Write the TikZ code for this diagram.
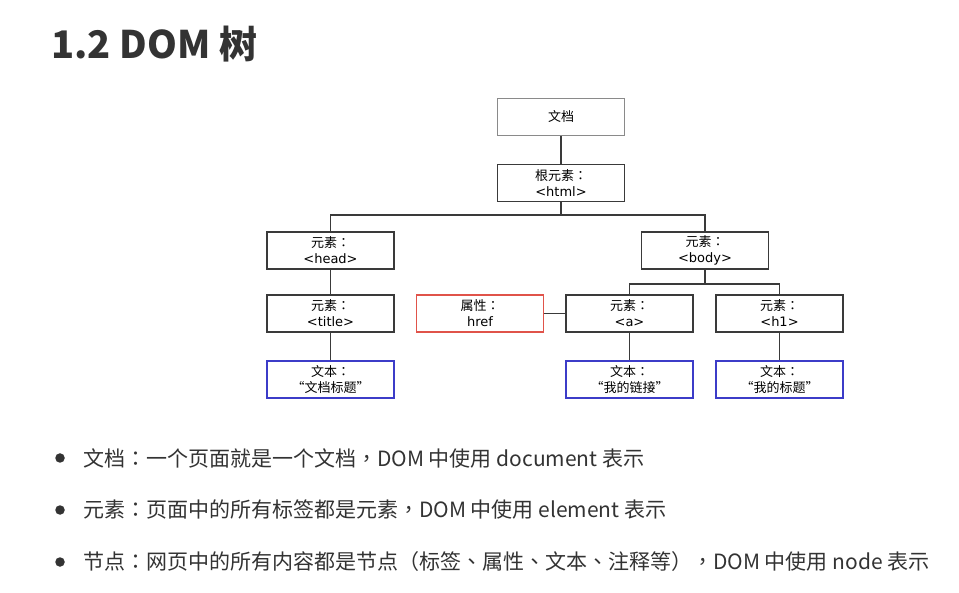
\documentclass[tikz,border=0pt]{standalone}
\usepackage{fontspec}
\setmainfont{Noto Sans CJK SC}
\newfontfamily\cjktc{Noto Sans CJK TC}
\newfontfamily\latbox{DejaVu Sans}
\definecolor{ink}{HTML}{333333}
\definecolor{boxline}{HTML}{3A3A3A}
\definecolor{docline}{HTML}{8A8A8A}
\definecolor{attrline}{HTML}{E0534A}
\definecolor{textline}{HTML}{3C3CC8}
\newcommand{\zh}[1]{{\cjktc #1}}
\begin{document}
\begin{tikzpicture}[x=1pt,y=-1pt,
  treebox/.style={draw=boxline,line width=1.6pt,rectangle,minimum width=127pt,minimum height=37pt,
    inner sep=0pt,align=center,font=\latbox\fontsize{13}{16}\selectfont,text=black},
  docbox/.style={treebox,draw=docline},
  attrbox/.style={treebox,draw=attrline},
  textbox/.style={treebox,draw=textline},
  link/.style={draw=boxline,line width=1.3pt},
  bullettext/.style={anchor=west,inner sep=0pt,font=\cjktc\fontsize{21}{24}\selectfont,text=ink},
  dot/.style={circle,fill=ink,inner sep=0pt,minimum size=9.5pt}]
\useasboundingbox (0,0) rectangle (959,593);
\fill[white] (0,0) rectangle (959,593);

\node[anchor=west,inner sep=0pt,font=\fontsize{38}{42}\selectfont\bfseries,text=ink] (title) at (51,44) {1.2 DOM 树};

\node[docbox] (doc) at (561,117) {\zh{文档}};
\node[treebox] (html) at (561,183) {\zh{根元素：}\\<html>};
\node[treebox] (head) at (330.5,250.5) {\zh{元素：}\\<head>};
\node[treebox] (body) at (705,250.5) {\zh{元素：}\\<body>};
\node[treebox] (ttl) at (330.5,313.5) {\zh{元素：}\\<title>};
\node[attrbox] (href) at (480,313.5) {\zh{属性：}\\href};
\node[treebox] (a) at (629.5,313.5) {\zh{元素：}\\<a>};
\node[treebox] (h1) at (779.5,313.5) {\zh{元素：}\\<h1>};
\node[textbox] (t1) at (330.5,379.5) {\zh{文本：}\\\zh{“文档标题”}};
\node[textbox] (t2) at (629.5,379.5) {\zh{文本：}\\\zh{“我的链接”}};
\node[textbox] (t3) at (779.5,379.5) {\zh{文本：}\\\zh{“我的标题”}};

\coordinate (j1) at (561,215);
\coordinate (j2) at (705,284);
\draw[link] (doc.south) -- (html.north);
\draw[link] (html.south) -- (j1);
\draw[link] (head.north) |- (j1) -| (body.north);
\draw[link] (body.south) -- (j2);
\draw[link] (a.north) |- (j2) -| (h1.north);
\draw[link] (head.south) -- (ttl.north);
\draw[link] (ttl.south) -- (t1.north);
\draw[link] (a.south) -- (t2.north);
\draw[link] (h1.south) -- (t3.north);
\draw[link] (href.east) -- (a.west);

\node[dot] (d1) at (60,458) {};
\node[dot] (d2) at (60,510) {};
\node[dot] (d3) at (60,562) {};
\node[bullettext] (b1) at (83,458) {文档：一个页面就是一个文档，DOM 中使用 document 表示};
\node[bullettext] (b2) at (83,510) {元素：页面中的所有标签都是元素，DOM 中使用 element 表示};
\node[bullettext] (b3) at (83,562) {节点：网页中的所有内容都是节点（标签、属性、文本、注释等），DOM 中使用 node 表示};
\end{tikzpicture}
\end{document}
